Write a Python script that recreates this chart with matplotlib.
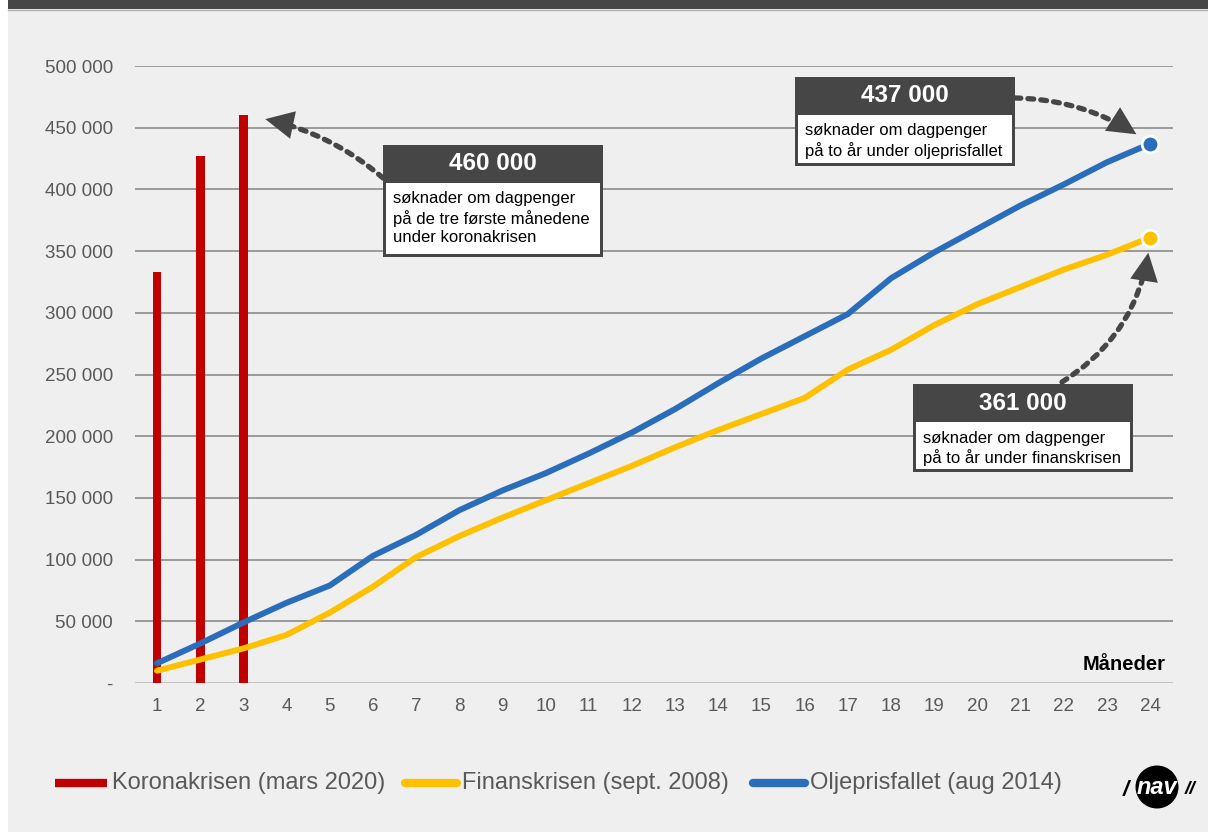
import numpy as np
import matplotlib
matplotlib.use("Agg")
import matplotlib.pyplot as plt
from matplotlib.patches import Rectangle
from matplotlib.lines import Line2D

plt.rcParams['font.family'] = ['Liberation Sans', 'DejaVu Sans']

# data
months = list(range(1, 25))
korona = [333000, 427000, 460000]
finans = [10000, 19000, 28000, 39000, 57000, 78000, 102000, 119000, 134000,
          148000, 162000, 176000, 191000, 205000, 218000, 231000, 254000,
          270000, 290000, 307000, 321000, 335000, 347000, 361000]
olje = [16000, 32000, 49000, 65000, 79000, 103000, 120000, 140000, 156000,
        170000, 186000, 203000, 222000, 243000, 263000, 281000, 299000,
        328000, 349000, 368000, 387000, 404000, 422000, 437000]
labels = ['Koronakrisen (mars 2020)', 'Finanskrisen (sept. 2008)', 'Oljeprisfallet (aug 2014)']
colors = ['#c00000', '#ffc000', '#2a6ebb']
yticks = [0, 50000, 100000, 150000, 200000, 250000, 300000, 350000, 400000, 450000, 500000]

W, H = 1208, 832
bg = '#efefef'
dark = '#464646'
txtcol = '#595959'

fig = plt.figure(figsize=(W / 100, H / 100), dpi=100, facecolor=bg)


def fx(x):
    return x / W


def fy(y):
    return 1 - y / H


ax = fig.add_axes([fx(135), fy(683), (1173 - 135) / W, (683 - 66) / H])
ax.set_facecolor(bg)
for s in ax.spines.values():
    s.set_visible(False)

ax.set_xlim(0.49, 24.53)
ax.set_ylim(0, 500000)
ax.set_yticks(yticks)
ax.set_yticklabels(['-' if v == 0 else f'{v:,}'.replace(',', ' ') for v in yticks])
ax.set_xticks(months)
ax.tick_params(length=0, labelsize=13.5, labelcolor=txtcol)
ax.tick_params(axis='y', pad=16)
ax.tick_params(axis='x', pad=11)
for v in yticks[1:]:
    ax.axhline(v, color='#8c8c8c', lw=1.2, zorder=1)
ax.axhline(0, color='#c4c4c4', lw=1.5, zorder=1)

ax.bar(months[:3], korona, width=0.2, color=colors[0], zorder=2)
ax.plot(months, finans, color=colors[1], lw=4.3, zorder=3, solid_capstyle='round')
ax.plot(months, olje, color=colors[2], lw=4.3, zorder=4, solid_capstyle='round')
ax.plot(months[-1], finans[-1], 'o', ms=12, color=colors[1], mec='white', mew=2, zorder=5)
ax.plot(months[-1], olje[-1], 'o', ms=12, color=colors[2], mec='white', mew=2, zorder=5)

ax.text(0.993, 0.015, 'Måneder', transform=ax.transAxes, ha='right', va='bottom',
        fontsize=14.5, fontweight='bold', color='black')


# annotation boxes
def box(x0, x1, ytop, yhead, ybot, value, lines):
    fig.add_artist(Rectangle((fx(x0), fy(ybot)), fx(x1 - x0), (ybot - ytop) / H,
                             transform=fig.transFigure, facecolor=dark, edgecolor='none', zorder=10))
    fig.add_artist(Rectangle((fx(x0 + 3), fy(ybot - 3)), fx(x1 - x0 - 6), (ybot - 3 - yhead) / H,
                             transform=fig.transFigure, facecolor='white', edgecolor='none', zorder=11))
    fig.text(fx((x0 + x1) / 2), fy((ytop + yhead) / 2), value, ha='center', va='center',
             fontsize=17.5, fontweight='bold', color='white', zorder=12)
    for i, ln in enumerate(lines):
        fig.text(fx(x0 + 10), fy(yhead + 16 + i * 19.5), ln, ha='left', va='center',
                 fontsize=12, color='black', zorder=12)


box(383, 603, 145, 183, 257, '460 000',
    ['søknader om dagpenger', 'på de tre første månedene', 'under koronakrisen'])
box(795, 1015, 77, 115, 166, '437 000',
    ['søknader om dagpenger', 'på to år under oljeprisfallet'])
box(913, 1133, 384, 422, 472, '361 000',
    ['søknader om dagpenger', 'på to år under finanskrisen'])


def arrow(xy, start, rad, shrink):
    xt = (start[0], H - start[1])
    ax.annotate('', xy=xy, xytext=xt, textcoords='figure pixels',
                arrowprops=dict(arrowstyle='-', color=dark, lw=3.8, linestyle=(0, (1.1, 1.35)),
                                connectionstyle=f'arc3,rad={rad}', shrinkA=0, shrinkB=shrink + 16),
                zorder=9, annotation_clip=False)
    ax.annotate('', xy=xy, xytext=xt, textcoords='figure pixels',
                arrowprops=dict(arrowstyle='-|>,head_length=0.85,head_width=0.42', color=dark, lw=0,
                                mutation_scale=24,
                                connectionstyle=f'arc3,rad={rad}', shrinkA=0, shrinkB=shrink),
                zorder=9, annotation_clip=False)


arrow((3.0, korona[2]), (383, 178), 0.15, 16)
arrow((24, olje[-1]), (1015, 98), -0.16, 12)
arrow((24, finans[-1]), (1062, 382), 0.25, 11)

# legend
leg_x = [55, 405, 753]
for x, c, lab in zip(leg_x, colors, labels):
    fig.add_artist(Line2D([fx(x), fx(x + 52)], [fy(783), fy(783)], transform=fig.transFigure,
                          color=c, lw=6, solid_capstyle='butt' if c == colors[0] else 'round'))
    fig.text(fx(x + 57), fy(783), lab, ha='left', va='center', fontsize=17, color=txtcol)

# nav logo
fig.text(fx(1157), fy(787), 'nav', ha='center', va='center', fontsize=17, fontweight='bold',
         fontstyle='italic', color='white',
         bbox=dict(boxstyle='circle,pad=0.05', fc='black', ec='none'))
fig.text(fx(1126), fy(790), '/', ha='center', va='center', fontsize=16, fontweight='bold',
         fontstyle='italic', color='black')
fig.text(fx(1190), fy(790), '//', ha='center', va='center', fontsize=14, fontweight='bold',
         fontstyle='italic', color='black')

# frame
fig.add_artist(Rectangle((0, 0), fx(8), 1, transform=fig.transFigure, facecolor='white',
                         edgecolor='none', zorder=20))
fig.add_artist(Rectangle((fx(8), fy(9)), 1, 9 / H, transform=fig.transFigure, facecolor=dark,
                         edgecolor='none', zorder=20))
fig.add_artist(Line2D([fx(8), 1], [fy(10), fy(10)], transform=fig.transFigure, color='#b0b0b0',
                      lw=1, zorder=20))

plt.savefig('out.png', dpi=100, facecolor=bg)
